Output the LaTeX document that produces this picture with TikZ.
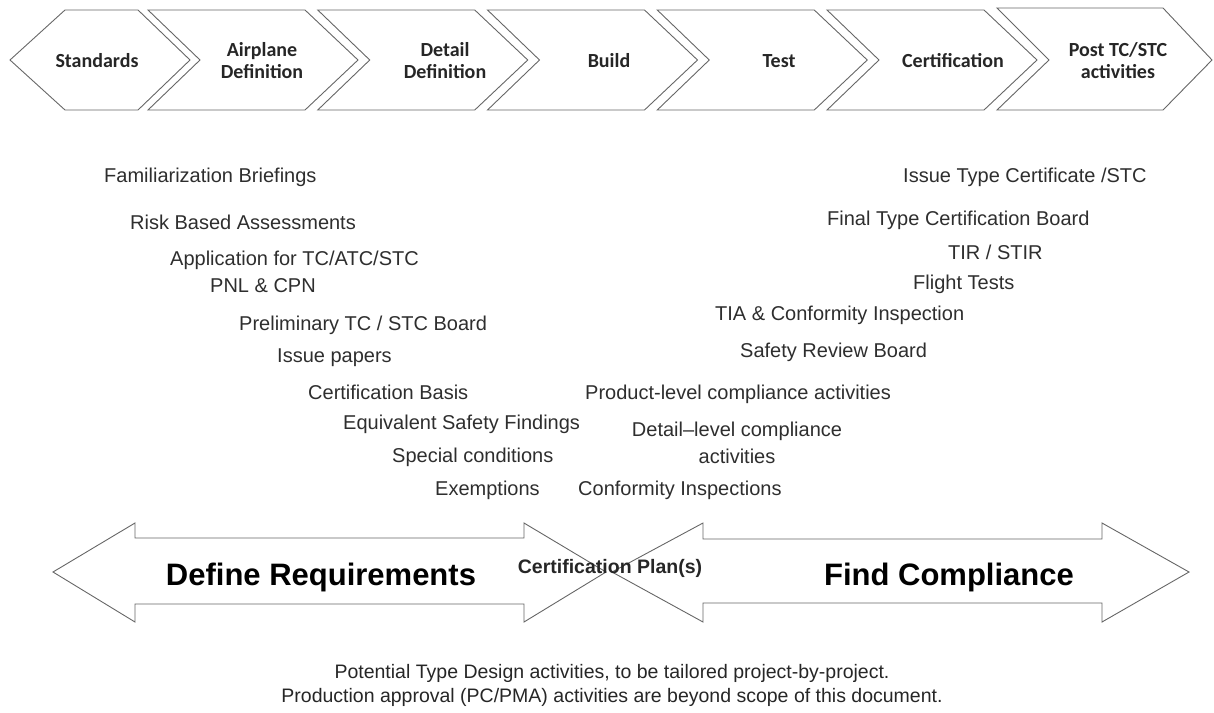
\documentclass[tikz,border=0pt]{standalone}
\usepackage{fontspec}
\setmainfont{Liberation Sans}
\newfontfamily\calfont{Carlito}
\begin{document}
\begin{tikzpicture}[x=1pt,y=-1pt,
  linea/.style={draw=black!60,line width=0.9pt},
  etapa/.style={font=\calfont\bfseries\fontsize{20}{22}\selectfont,text=black!85,align=center,inner sep=0},
  tarea/.style={font=\fontsize{20}{27}\selectfont,text=black!82,inner sep=0,text height=14,text depth=0,anchor=west},
  lema/.style={font=\bfseries\fontsize{31}{31}\selectfont,inner sep=0},
  nota/.style={font=\fontsize{19.5}{24}\selectfont,text=black!85,align=center,inner sep=0}]
\useasboundingbox (0,0) rectangle (1214,712);
% Etapas
\draw[linea] (10,60) -- (65,10) -- (138,10) -- (190,60) -- (138,110) -- (65,110) -- cycle;
\foreach \i in {0,...,4}
  \draw[linea] ({148+169.75*\i},10) -- ({200+169.75*\i},60) -- ({148+169.75*\i},110)
    -- ({305+169.75*\i},110) -- ({358+169.75*\i},60) -- ({305+169.75*\i},10) -- cycle;
\draw[linea,fill=white] (997,8) -- (1049,60) -- (997,110) -- (1163,110) -- (1212,60) -- (1163,8) -- cycle;
\draw (97,61) node[etapa] (std) {Standards};
\draw (262,61) node[etapa] (apd) {Airplane\\Definition};
\draw (445,61) node[etapa] (dtd) {Detail\\Definition};
\draw (609,61) node[etapa] (bld) {Build};
\draw (779,61) node[etapa] (tst) {Test};
\draw (953,61) node[etapa] (crt) {Certification};
\draw (1118,61) node[etapa] (pst) {Post TC/STC\\activities};
% Actividades (requisitos)
\draw (104,175) node[tarea] (fam) {Familiarization Briefings};
\draw (130,222) node[tarea] (rba) {Risk Based Assessments};
\draw (170,258) node[tarea] (app) {Application for TC/ATC/STC};
\draw (210,285) node[tarea] (pnl) {PNL \& CPN};
\draw (239,323) node[tarea] (ptc) {Preliminary TC / STC Board};
\draw (277,355) node[tarea] (isp) {Issue papers};
\draw (308,392) node[tarea] (cbs) {Certification Basis};
\draw (343,422) node[tarea] (esf) {Equivalent Safety Findings};
\draw (392,455) node[tarea] (spc) {Special conditions};
\draw (435,488) node[tarea] (exm) {Exemptions};
% Actividades (cumplimiento)
\draw (585,392) node[tarea] (plc) {Product-level compliance activities};
\draw (737,443) node[tarea,anchor=center,align=center,text height=,text depth=] (dlc) {Detail–level compliance\\activities};
\draw (578,488) node[tarea] (cfi) {Conformity Inspections};
\draw (903,175) node[tarea] (itc) {Issue Type Certificate /STC};
\draw (827,218) node[tarea] (ftb) {Final Type Certification Board};
\draw (948,252) node[tarea] (tir) {TIR / STIR};
\draw (913,282) node[tarea] (flt) {Flight Tests};
\draw (715,313) node[tarea] (tia) {TIA \& Conformity Inspection};
\draw (740,350) node[tarea] (srb) {Safety Review Board};
% Flechas
\draw[linea] (53,572) -- (135,523) -- (135,538) -- (524,538) -- (524,523) -- (606,572)
  -- (524,622) -- (524,604) -- (135,604) -- (135,622) -- cycle;
\draw[linea] (612,572) -- (703,523) -- (703,539) -- (1102,539) -- (1102,523) -- (1189,572)
  -- (1102,622) -- (1102,603) -- (703,603) -- (703,622) -- cycle;
\draw (321,577) node[lema] (dfr) {Define Requirements};
\draw (949,577) node[lema] (fdc) {Find Compliance};
\draw (610,568) node[inner sep=0,font=\bfseries\fontsize{19.5}{20}\selectfont,text=black!85] (cpl) {Certification Plan(s)};
% Nota
\draw (612,685) node[nota] (nta) {Potential Type Design activities, to be tailored project-by-project.\\Production approval (PC/PMA) activities are beyond scope of this document.};
\end{tikzpicture}
\end{document}
